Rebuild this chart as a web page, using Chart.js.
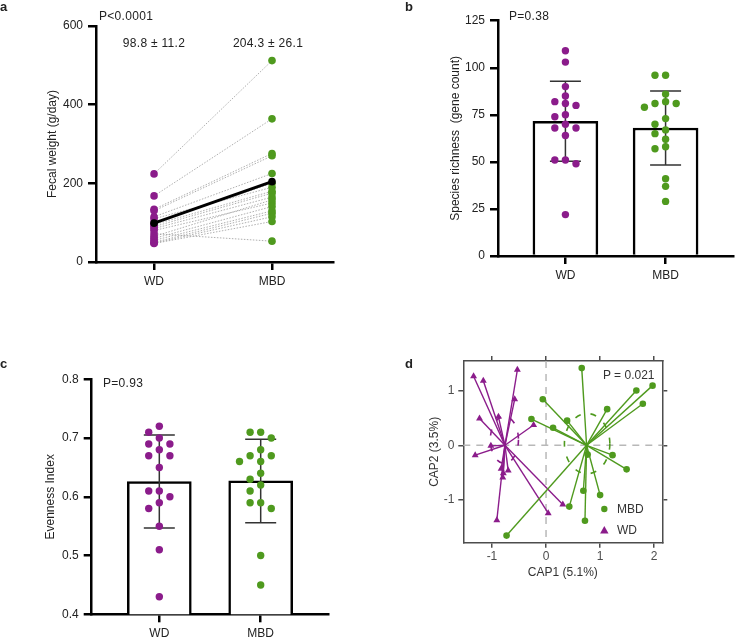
<!DOCTYPE html>
<html>
<head>
<meta charset="utf-8">
<script src="https://cdn.jsdelivr.net/npm/chart.js@4.4.1/dist/chart.umd.min.js"></script>
<style>
  body { margin: 0; background: #fff; }
  #wrap { position: relative; width: 737px; height: 640px; overflow: hidden; background: #fff;
          font-family: "Liberation Sans", Arial, sans-serif; color: #222; }
  #wrap canvas { position: absolute; }
  .t { position: absolute; font-size: 12px; line-height: 14px; white-space: nowrap; letter-spacing: 0.3px; }
  .c { transform: translateX(-50%); }
  .lbl { font-weight: bold; font-size: 13px; letter-spacing: 0; }
  .d { color: #333; letter-spacing: 0; }
</style>
</head>
<body>
<div id="wrap">
  <canvas id="ca" width="360" height="300" style="left:0;top:0;width:360px;height:300px"></canvas>
  <canvas id="cb" width="367" height="300" style="left:370px;top:0;width:367px;height:300px"></canvas>
  <canvas id="cc" width="370" height="320" style="left:0;top:320px;width:370px;height:320px"></canvas>
  <canvas id="cd" width="367" height="320" style="left:370px;top:320px;width:367px;height:320px"></canvas>

  <div class="t lbl" style="left:0;top:0">a</div>
  <div class="t" style="left:99px;top:9px">P&lt;0.0001</div>
  <div class="t c" style="left:154px;top:36px">98.8 ± 11.2</div>
  <div class="t c" style="left:268px;top:36px">204.3 ± 26.1</div>

  <div class="t lbl" style="left:405px;top:0">b</div>
  <div class="t" style="left:509px;top:9px">P=0.38</div>

  <div class="t lbl" style="left:0;top:357px">c</div>
  <div class="t" style="left:103px;top:376px">P=0.93</div>

  <div class="t lbl" style="left:405px;top:357px">d</div>
  <div class="t d" style="left:603px;top:368px">P = 0.021</div>
  <div class="t d" style="left:617px;top:502px">MBD</div>
  <div class="t d" style="left:617px;top:523px">WD</div>
</div>

<script>
// ---------------- data ----------------
const groups = ['WD', 'MBD'];

// a: fecal weight, paired per subject
const fecalWD  = [224, 168, 134, 130, 115, 110, 100, 95, 90, 85, 80, 72, 65, 60, 55, 50, 48, 47];
const fecalMBD = [512, 364, 276, 270, 225, 190, 200, 180, 175, 165, 150, 53, 158, 141, 130, 124, 115, 103];
const fecalMean = [98.8, 204.3];
const fecalTicks = [0, 200, 400, 600];

// b: species richness
const richWD  = [109, 103, 90, 85, 82, 81, 80, 75, 74, 70, 68, 68, 64, 51, 51, 49, 22];
const richMBD = [96, 96, 86, 82, 81, 81, 79, 73, 70, 67, 65, 62, 58, 57, 41, 37, 29];
const richMean = [71.6, 68.0];
const richSD = [21.2, 19.6];
const richTicks = [0, 25, 50, 75, 100, 125];

// c: evenness
const evenWD  = [0.72, 0.71, 0.70, 0.69, 0.69, 0.68, 0.67, 0.67, 0.65, 0.61, 0.61, 0.60, 0.59, 0.58, 0.55, 0.51, 0.43];
const evenMBD = [0.71, 0.71, 0.70, 0.68, 0.67, 0.67, 0.66, 0.66, 0.64, 0.63, 0.62, 0.61, 0.59, 0.59, 0.58, 0.50, 0.45];
const evenMean = [0.626, 0.627];
const evenSD = [0.079, 0.071];
const evenTicks = [0.4, 0.5, 0.6, 0.7, 0.8];

// d: CAP ordination
const capWDx = [-1.34, -1.16, -0.53, -0.58, -1.23, -0.23, -0.88, -1.02, -1.31, -0.83, -0.79, -0.70, -0.80, -0.91, 0.31, 0.04];
const capWDy = [1.26, 1.18, 1.38, 0.84, 0.49, 0.37, 0.52, -0.01, -0.18, -0.43, -0.51, -0.46, -0.59, -1.37, -1.08, -1.24];
const capMBDx = [0.66, -0.06, 1.67, 1.97, 1.79, 1.13, -0.27, 0.39, 0.13, 1.23, 1.49, 0.77, 0.69, 1.00, 0.43, 0.72, -0.73];
const capMBDy = [1.41, 0.84, 1.00, 1.09, 0.76, 0.66, 0.48, 0.45, 0.32, -0.18, -0.44, -0.17, -0.83, -0.91, -1.12, -1.38, -1.65];
const capCentroidWD = [-0.76, 0.0];
const capCentroidMBD = [0.75, 0.0];
const capEllipseWD = [-0.77, 0.10, 0.26, 0.43];   // centre x, centre y, radius x, radius y
const capEllipseMBD = [0.76, 0.03, 0.42, 0.55];
const capTicksX = [-1, 0, 1, 2];
const capTicksY = [-1, 0, 1];

// ---------------- style ----------------
const FONT = '"Liberation Sans", Arial, sans-serif';
const PURPLE = '#8b1c8b';
const GREEN = '#4f9a1e';
const INK = '#222';
Chart.defaults.font.family = FONT;
Chart.defaults.color = INK;

const base = {
  animation: false, responsive: false, devicePixelRatio: 1, events: [],
  plugins: { legend: { display: false }, tooltip: { enabled: false } }
};
const blackGrid = () => ({ drawOnChartArea: false, drawTicks: true, tickLength: 8, color: '#000', lineWidth: 2.5, offset: false });
const blackBorder = () => ({ display: true, color: '#000', width: 2.5 });
const tickFont = { family: FONT, size: 12 };

function catAxis(min, max, height) {
  return {
    type: 'linear', min, max, offset: false,
    afterBuildTicks: s => { s.ticks = groups.map((g, i) => ({ value: i + 1 })); },
    afterFit: s => { s.height = height; },
    ticks: { callback: v => groups[v - 1], color: INK, font: tickFont, padding: 4, autoSkip: false, maxRotation: 0 },
    grid: blackGrid(), border: blackBorder()
  };
}
function valAxis(min, max, vals, width, title, titlePad, fmt) {
  return {
    type: 'linear', min, max,
    afterBuildTicks: s => { s.ticks = vals.map(v => ({ value: v })); },
    afterFit: s => { s.width = width; },
    ticks: { callback: fmt || (v => String(v)), color: INK, font: tickFont, padding: 5, autoSkip: false },
    title: { display: true, text: title, color: INK, font: { family: FONT, size: 12 }, padding: { top: titlePad, bottom: 0 } },
    grid: blackGrid(), border: blackBorder()
  };
}

// error bar plugin (drawn right after the bar dataset)
const errBars = {
  id: 'errBars',
  afterDatasetDraw(chart, args, opts) {
    if (!opts || args.index !== opts.barIndex) return;
    const { ctx, scales: { x, y } } = chart;
    ctx.save();
    ctx.strokeStyle = '#333';
    ctx.lineWidth = 1.5;
    opts.means.forEach((m, i) => {
      const px = x.getPixelForValue(i + 1);
      const top = y.getPixelForValue(m + opts.sds[i]);
      const bot = y.getPixelForValue(m - opts.sds[i]);
      ctx.beginPath();
      ctx.moveTo(px, top); ctx.lineTo(px, bot);
      ctx.moveTo(px - 15.5, top); ctx.lineTo(px + 15.5, top);
      ctx.moveTo(px - 15.5, bot); ctx.lineTo(px + 15.5, bot);
      ctx.stroke();
    });
    ctx.restore();
  }
};

// simple beeswarm: spreads overlapping dots sideways
function swarm(chart, values, center, diam, spread) {
  const xs = chart.scales.x, ys = chart.scales.y;
  const pxPerUnit = Math.abs(xs.getPixelForValue(1) - xs.getPixelForValue(0));
  const idx = values.map((v, i) => i).sort((a, b) => values[b] - values[a]);
  const placed = [];
  const out = new Array(values.length).fill(center);
  idx.forEach(i => {
    const py = ys.getPixelForValue(values[i]);
    for (let k = 0; k < 30; k++) {
      const step = Math.ceil(k / 2) * (k % 2 ? -1 : 1);
      const px = step * diam * spread;
      if (placed.every(p => Math.hypot(p[0] - px, p[1] - py) >= diam * 0.98)) {
        placed.push([px, py]);
        out[i] = center + px / pxPerUnit;
        break;
      }
    }
  });
  return values.map((v, i) => ({ x: out[i], y: v }));
}

// ---------------- panel a ----------------
new Chart(document.getElementById('ca'), {
  type: 'scatter',
  data: {
    datasets: [
      ...fecalWD.map((w, i) => ({
        type: 'line', data: [{ x: 1, y: w }, { x: 2, y: fecalMBD[i] }],
        borderColor: '#9a9a9a', borderWidth: 0.8, borderDash: [1.5, 1.5], pointRadius: 0, order: 4
      })),
      { data: fecalWD.map(v => ({ x: 1, y: v })), backgroundColor: PURPLE, pointRadius: 3.8, borderWidth: 0, order: 3 },
      { data: fecalMBD.map(v => ({ x: 2, y: v })), backgroundColor: GREEN, pointRadius: 3.8, borderWidth: 0, order: 2 },
      { type: 'line', data: fecalMean.map((v, i) => ({ x: i + 1, y: v })), borderColor: '#000', borderWidth: 3,
        pointRadius: 3.8, pointBackgroundColor: '#000', pointBorderWidth: 0, order: 1 }
    ]
  },
  options: Object.assign({}, base, {
    layout: { padding: { left: 0, top: 26, right: 27, bottom: 0 } },
    scales: {
      x: catAxis(0.508, 2.517, 38),
      y: valAxis(0, 600, fecalTicks, 96, 'Fecal weight (g/day)', 45)
    }
  })
});

// ---------------- panel b ----------------
const chartB = new Chart(document.getElementById('cb'), {
  type: 'scatter',
  data: {
    datasets: [
      { type: 'bar', data: richMean.map((v, i) => ({ x: i + 1, y: v })), backgroundColor: '#fff',
        borderColor: '#000', borderWidth: 2.5, barThickness: 65, order: 3 },
      { data: richWD.map(v => ({ x: 1, y: v })), backgroundColor: PURPLE, pointRadius: 3.7, borderWidth: 0, order: 2 },
      { data: richMBD.map(v => ({ x: 2, y: v })), backgroundColor: GREEN, pointRadius: 3.7, borderWidth: 0, order: 1 }
    ]
  },
  options: Object.assign({}, base, {
    layout: { padding: { left: 0, top: 20.7, right: 2, bottom: 0 } },
    plugins: Object.assign({}, base.plugins, { errBars: { barIndex: 0, means: richMean, sds: richSD } }),
    scales: {
      x: catAxis(0.327, 2.673, 44),
      y: valAxis(0, 125, richTicks, 128, 'Species richness  (gene count)', 78)
    }
  }),
  plugins: [errBars]
});
chartB.data.datasets[1].data = swarm(chartB, richWD, 1, 7.3, 1.45);
chartB.data.datasets[2].data = swarm(chartB, richMBD, 2, 7.3, 1.45);
chartB.update('none');

// ---------------- panel c ----------------
const chartC = new Chart(document.getElementById('cc'), {
  type: 'scatter',
  data: {
    datasets: [
      { type: 'bar', data: evenMean.map((v, i) => ({ x: i + 1, y: v })), backgroundColor: '#fff',
        borderColor: '#000', borderWidth: 2.5, barThickness: 64, order: 3 },
      { data: evenWD.map(v => ({ x: 1, y: v })), backgroundColor: PURPLE, pointRadius: 3.7, borderWidth: 0, order: 2 },
      { data: evenMBD.map(v => ({ x: 2, y: v })), backgroundColor: GREEN, pointRadius: 3.7, borderWidth: 0, order: 1 }
    ]
  },
  options: Object.assign({}, base, {
    layout: { padding: { left: 0, top: 59.3, right: 42, bottom: 0 } },
    plugins: Object.assign({}, base.plugins, { errBars: { barIndex: 0, means: evenMean, sds: evenSD } }),
    scales: {
      x: catAxis(0.333, 2.664, 25.7),
      y: valAxis(0.4, 0.8, evenTicks, 91.7, 'Evenness Index', 43, v => v.toFixed(1))
    }
  }),
  plugins: [errBars]
});
chartC.data.datasets[1].data = swarm(chartC, evenWD, 1, 7.3, 1.45);
chartC.data.datasets[2].data = swarm(chartC, evenMBD, 2, 7.3, 1.45);
chartC.update('none');

// ---------------- panel d ----------------
const GRAY = '#4d4d4d';
function capAxis(pos, min, max, vals, size, showLabels, title, titlePad) {
  const horiz = pos === 'top' || pos === 'bottom';
  const ax = {
    type: 'linear', position: pos, min, max,
    afterBuildTicks: s => { s.ticks = vals.map(v => ({ value: v })); },
    afterFit: s => { if (horiz) s.height = size; else s.width = size; },
    ticks: { display: showLabels, color: GRAY, font: tickFont, padding: horiz ? 2 : 4, autoSkip: false, maxRotation: 0 },
    grid: { drawOnChartArea: false, drawTicks: true, tickLength: 5, color: GRAY, lineWidth: 1.5 },
    border: { display: true, color: GRAY, width: 1.5 }
  };
  if (title) ax.title = { display: true, text: title, color: '#333', font: { family: FONT, size: 12 }, padding: titlePad };
  return ax;
}
const capDecor = {
  id: 'capDecor',
  beforeDatasetsDraw(chart) {
    const { ctx, chartArea: a, scales: { x, y } } = chart;
    ctx.save();
    ctx.strokeStyle = '#b8b8b8'; ctx.lineWidth = 1.5; ctx.setLineDash([7, 6]);
    const x0 = x.getPixelForValue(0), y0 = y.getPixelForValue(0);
    ctx.beginPath();
    ctx.moveTo(x0, a.top); ctx.lineTo(x0, a.bottom);
    ctx.moveTo(a.left, y0); ctx.lineTo(a.right, y0);
    ctx.stroke();
    ctx.setLineDash([6, 10]); ctx.lineWidth = 1.6;
    [[capEllipseWD, PURPLE], [capEllipseMBD, GREEN]].forEach(([e, col]) => {
      const cx = x.getPixelForValue(e[0]), cy = y.getPixelForValue(e[1]);
      const rx = Math.abs(x.getPixelForValue(e[0] + e[2]) - cx);
      const ry = Math.abs(y.getPixelForValue(e[1] + e[3]) - cy);
      ctx.strokeStyle = col;
      ctx.beginPath(); ctx.ellipse(cx, cy, rx, ry, 0, 0, Math.PI * 2); ctx.stroke();
    });
    ctx.restore();
  },
  afterDraw(chart) {
    const ctx = chart.ctx;
    ctx.save();
    ctx.fillStyle = GREEN;
    ctx.beginPath(); ctx.arc(234.3, 189, 3.2, 0, Math.PI * 2); ctx.fill();
    ctx.fillStyle = PURPLE;
    ctx.beginPath(); ctx.moveTo(234.3, 206); ctx.lineTo(238.5, 213.5); ctx.lineTo(230.1, 213.5); ctx.closePath(); ctx.fill();
    ctx.restore();
  }
};
new Chart(document.getElementById('cd'), {
  type: 'scatter',
  data: {
    datasets: [
      ...capWDx.map((vx, i) => ({
        type: 'line', data: [{ x: capCentroidWD[0], y: capCentroidWD[1] }, { x: vx, y: capWDy[i] }],
        borderColor: PURPLE, borderWidth: 1.4, pointRadius: 0, order: 5
      })),
      ...capMBDx.map((vx, i) => ({
        type: 'line', data: [{ x: capCentroidMBD[0], y: capCentroidMBD[1] }, { x: vx, y: capMBDy[i] }],
        borderColor: GREEN, borderWidth: 1.4, pointRadius: 0, order: 4
      })),
      { data: capWDx.map((vx, i) => ({ x: vx, y: capWDy[i] })), pointStyle: 'triangle', pointRadius: 4,
        backgroundColor: PURPLE, borderColor: PURPLE, borderWidth: 0, order: 2 },
      { data: capMBDx.map((vx, i) => ({ x: vx, y: capMBDy[i] })), pointStyle: 'circle', pointRadius: 3.3,
        backgroundColor: GREEN, borderColor: GREEN, borderWidth: 0, order: 1 }
    ]
  },
  options: Object.assign({}, base, {
    layout: { padding: { left: 0, top: 35, right: 68.7, bottom: 57.3 } },
    scales: {
      x: capAxis('bottom', -1.53, 2.15, capTicksX, 40, true, 'CAP1 (5.1%)', { top: 0, bottom: 2.5 }),
      x2: capAxis('top', -1.53, 2.15, capTicksX, 6, false),
      y: capAxis('left', -1.78, 1.54, capTicksY, 93.3, true, 'CAP2 (3.5%)', { top: 57.8, bottom: 0 }),
      y2: capAxis('right', -1.78, 1.54, capTicksY, 6, false)
    }
  }),
  plugins: [capDecor]
});
</script>
</body>
</html>
